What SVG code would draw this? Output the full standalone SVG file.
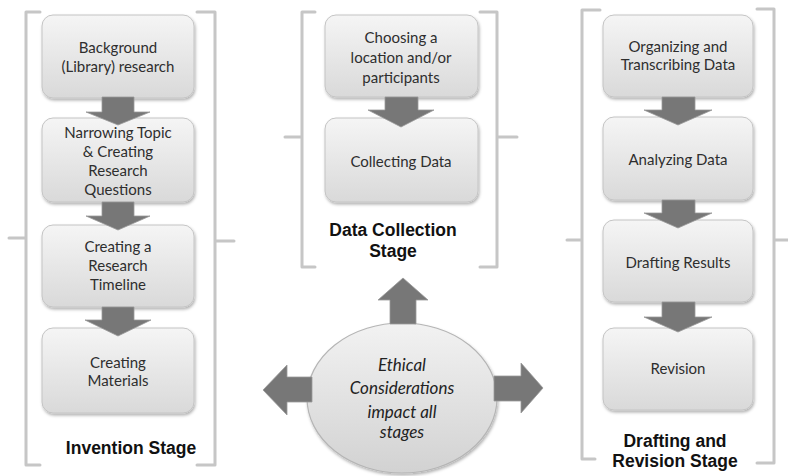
<svg xmlns="http://www.w3.org/2000/svg" width="788" height="476" viewBox="0 0 788 476">
<defs>
<linearGradient id="boxg" x1="0" y1="0" x2="0" y2="1">
<stop offset="0" stop-color="#f5f5f5"/>
<stop offset="1" stop-color="#d9d9d9"/>
</linearGradient>
<linearGradient id="ellg" x1="0" y1="0" x2="0" y2="1">
<stop offset="0" stop-color="#f2f2f2"/>
<stop offset="1" stop-color="#d2d2d2"/>
</linearGradient>
<filter id="sh" x="-10%" y="-10%" width="125%" height="130%">
<feDropShadow dx="1" dy="2" stdDeviation="1.8" flood-color="#000" flood-opacity="0.3"/>
</filter>
</defs>
<style>
.box{fill:url(#boxg);stroke:#c4c4c4;stroke-width:1;filter:url(#sh)}
.ell{fill:url(#ellg);stroke:#b5b5b5;stroke-width:1.2;filter:url(#sh)}
.arr{fill:#777;stroke:#999;stroke-width:0.8;stroke-linejoin:miter}
.br{fill:none;stroke:#c6c6c6;stroke-width:3;stroke-linejoin:round;stroke-linecap:round}
.t{font-family:Lato,Calibri,"Liberation Sans",sans-serif;font-size:15px;fill:#2e2e2e;text-anchor:middle}
.ti{font-family:Lato,Calibri,"Liberation Sans",sans-serif;font-size:17px;font-style:italic;fill:#222;text-anchor:middle}
.lb{font-family:"Liberation Sans",Arial,sans-serif;font-size:17.5px;font-weight:bold;fill:#111;text-anchor:middle}
</style>
<rect width="788" height="476" fill="#fff"/>

<g id="brackets">
<path class="br" d="M40 12 H26 V465 H40 M26 238 H9"/>
<path class="br" d="M197 12 H215 V465 H197 M215 241 H234"/>
<path class="br" d="M315 12 H302 V267 H315 M302 137 H285"/>
<path class="br" d="M480 12 H497 V267 H480 M497 137 H517"/>
<path class="br" d="M600 10 H582 V459 H595 M582 240 H567"/>
<path class="br" d="M757 9 H774 V463 H757 M774 240 H788"/>
</g>

<g id="invention-stage">
<g id="n-background"><rect class="box" x="42" y="15" width="152" height="83" rx="11"/>
<text class="t" x="118" y="53">Background</text><text class="t" x="118" y="72">(Library) research</text></g>
<g id="n-narrowing"><rect class="box" x="42" y="118" width="152" height="84" rx="11"/>
<text class="t" x="118" y="138">Narrowing Topic</text><text class="t" x="118" y="157">&amp; Creating</text><text class="t" x="118" y="176">Research</text><text class="t" x="118" y="195">Questions</text></g>
<g id="n-timeline"><rect class="box" x="42" y="225" width="152" height="82" rx="11"/>
<text class="t" x="118" y="252">Creating a</text><text class="t" x="118" y="271">Research</text><text class="t" x="118" y="290">Timeline</text></g>
<g id="n-materials"><rect class="box" x="42" y="328" width="152" height="85" rx="11"/>
<text class="t" x="118" y="368">Creating</text><text class="t" x="118" y="386">Materials</text></g>
<text class="lb" x="131" y="454">Invention Stage</text>
</g>

<g id="data-collection-stage">
<g id="n-choosing"><rect class="box" x="325" y="15" width="153" height="82" rx="11"/>
<text class="t" x="401" y="43">Choosing a</text><text class="t" x="401" y="63">location and/or</text><text class="t" x="401" y="83">participants</text></g>
<g id="n-collecting"><rect class="box" x="325" y="118" width="153" height="84" rx="11"/>
<text class="t" x="401" y="167">Collecting Data</text></g>
<text class="lb" x="393" y="236">Data Collection</text>
<text class="lb" x="393" y="257">Stage</text>
</g>

<g id="drafting-stage">
<g id="n-organizing"><rect class="box" x="603" y="15" width="150" height="82" rx="11"/>
<text class="t" x="678" y="52">Organizing and</text><text class="t" x="678" y="70">Transcribing Data</text></g>
<g id="n-analyzing"><rect class="box" x="603" y="117" width="150" height="83" rx="11"/>
<text class="t" x="678" y="165">Analyzing Data</text></g>
<g id="n-drafting"><rect class="box" x="603" y="220" width="150" height="82" rx="11"/>
<text class="t" x="678" y="268">Drafting Results</text></g>
<g id="n-revision"><rect class="box" x="603" y="328" width="150" height="82" rx="11"/>
<text class="t" x="678" y="374">Revision</text></g>
<text class="lb" x="675" y="447">Drafting and</text>
<text class="lb" x="675" y="467">Revision Stage</text>
</g>

<g id="n-ethical">
<ellipse class="ell" cx="402" cy="398" rx="95" ry="75"/>
<text class="ti" x="402" y="371">Ethical</text>
<text class="ti" x="402" y="394">Considerations</text>
<text class="ti" x="402" y="418">impact all</text>
<text class="ti" x="402" y="438">stages</text>
</g>

<g id="connectors">
<path class="arr" d="M102 97 H134 V112 H150 L118 125 L86 112 H102 Z"/>
<path class="arr" d="M102 202 H134 V216 H150 L118 230 L86 216 H102 Z"/>
<path class="arr" d="M102 307 H134 V320 H151 L118 336 L85 320 H102 Z"/>
<path class="arr" d="M385 97 H418 V110 H434 L401 127 L368 110 H385 Z"/>
<path class="arr" d="M662 97 H695 V110 H712 L678 125 L644 110 H662 Z"/>
<path class="arr" d="M662 200 H695 V213 H712 L678 228 L644 213 H662 Z"/>
<path class="arr" d="M662 302 H695 V317 H712 L678 332 L644 317 H662 Z"/>
<path class="arr" d="M390 324 V300 H378 L403 278 L428 300 H416 V324 Z"/>
<path class="arr" d="M312 377 H287 V365 L263 390 L287 415 V402 H312 Z"/>
<path class="arr" d="M494 376 H521 V363 L543 388 L521 413 V401 H494 Z"/>
</g>
</svg>
